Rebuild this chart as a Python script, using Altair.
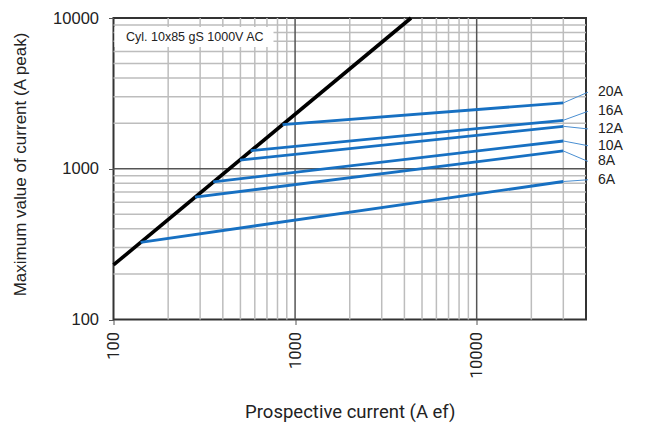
import altair as alt
import pandas as pd

# Prospective current (A rms) vs. maximum let-through current (A peak)
ratings = ["20A", "16A", "12A", "10A", "8A", "6A"]
start_current = [853, 569, 497, 354, 281, 141]
start_peak = [1963, 1318, 1142, 819, 648, 325]
end_current = [30000, 30000, 30000, 30000, 30000, 30000]
end_peak = [2735, 2097, 1912, 1528, 1312, 823]
label_peak = [3219, 2405, 1837, 1422, 1119, 845]
label_current = [41000, 41000, 41000, 41000, 41000, 41000]

# Maximum asymmetrical peak current line
peak_line_current = [100, 4350]
peak_line_peak = [230, 10000]

x_minor = [200, 300, 400, 500, 600, 700, 800, 900,
           2000, 3000, 4000, 5000, 6000, 7000, 8000, 9000,
           20000, 30000]
x_major = [1000, 10000]
y_minor = [200, 300, 400, 500, 600, 700, 800, 900,
           2000, 3000, 4000, 5000, 6000, 7000, 8000, 9000]
y_major = [1000]

x_ticks = [100, 1000, 10000]
y_ticks = [100, 1000, 10000]

W, H = 472.5, 301.5
BLUE = "#1770c2"

curves = pd.DataFrame({
    "rating": ratings,
    "x": start_current, "y": start_peak,
    "x2": end_current, "y2": end_peak,
    "lx": label_current, "ly": label_peak,
})
peak_df = pd.DataFrame({"x": [peak_line_current[0]], "y": [peak_line_peak[0]],
                        "x2": [peak_line_current[1]], "y2": [peak_line_peak[1]]})

xs = alt.Scale(type="log", domain=[100, 40000], nice=False)
ys = alt.Scale(type="log", domain=[100, 10000], nice=False)

x_axis = alt.Axis(values=x_ticks, format="d", grid=False, labelAngle=-90,
                  labelFont="Roboto", labelFontSize=16.5, labelColor="#222",
                  labelPadding=7, tickSize=5, tickColor="#555", domain=False,
                  title="Prospective current (A ef)", titleFont="Roboto",
                  titleFontSize=18.5, titleFontWeight="normal", titleColor="#222",
                  titleY=92, titleBaseline="middle")
y_axis = alt.Axis(values=y_ticks, format="d", grid=False,
                  labelFont="Liberation Sans", labelFontSize=16.5, labelColor="#222",
                  labelPadding=10, tickSize=5, tickColor="#555", domain=False,
                  title="Maximum value of current (A peak)", titleFont="Liberation Sans",
                  titleFontSize=17, titleFontWeight="normal", titleColor="#222",
                  titleX=-93.5, titleY=146, titleBaseline="middle", titleAngle=-90)

def vgrid(vals, color):
    return alt.Chart(pd.DataFrame({"v": vals})).mark_rule(color=color, strokeWidth=1.5).encode(
        x=alt.X("v:Q", scale=xs, axis=x_axis))

def hgrid(vals, color):
    return alt.Chart(pd.DataFrame({"v": vals})).mark_rule(color=color, strokeWidth=1.5).encode(
        y=alt.Y("v:Q", scale=ys, axis=y_axis))

grid = alt.layer(
    vgrid(x_minor, "#bdbdbd"), hgrid(y_minor, "#bdbdbd"),
    vgrid(x_major, "#555555"), hgrid(y_major, "#555555"),
)

# Annotation box with the fuse type
box = alt.Chart(pd.DataFrame({"t": ["Cyl. 10x85 gS 1000V AC"]})).mark_rect(
    color="white").encode(x=alt.value(1), x2=alt.value(160), y=alt.value(9), y2=alt.value(29))
box_text = alt.Chart(pd.DataFrame({"t": ["Cyl. 10x85 gS 1000V AC"]})).mark_text(
    align="left", baseline="middle", font="Liberation Sans", fontSize=12.5, color="#222"
).encode(x=alt.value(12.5), y=alt.value(19), text="t:N")

peak = alt.Chart(peak_df).mark_rule(color="black", strokeWidth=3.6, strokeCap="butt").encode(
    x=alt.X("x:Q", scale=xs), y=alt.Y("y:Q", scale=ys), x2="x2:Q", y2="y2:Q")

lines = alt.Chart(curves).mark_rule(color=BLUE, strokeWidth=2.8).encode(
    x=alt.X("x:Q", scale=xs), y=alt.Y("y:Q", scale=ys), x2="x2:Q", y2="y2:Q")

leaders = alt.Chart(curves).mark_rule(color="#4a8fd2", strokeWidth=1).encode(
    x=alt.X("x2:Q", scale=xs), y=alt.Y("y2:Q", scale=ys), x2="lx:Q", y2="ly:Q")

labels = alt.Chart(curves).mark_text(
    align="left", baseline="middle", dx=10, font="Liberation Sans", fontSize=14, color="#222"
).encode(x=alt.X("lx:Q", scale=xs), y=alt.Y("ly:Q", scale=ys), text="rating:N")

chart = alt.layer(grid, box, box_text, peak, lines, leaders, labels).properties(
    width=W, height=H,
    autosize=alt.AutoSizeParams(type="none"),
    padding={"left": 113.5, "top": 18, "right": 670 - 113.5 - W, "bottom": 423 - 18 - H},
    background="white",
).configure_view(stroke="#333333", strokeWidth=2)

chart.save("out.html", embed_options={"renderer": "svg", "actions": False})
